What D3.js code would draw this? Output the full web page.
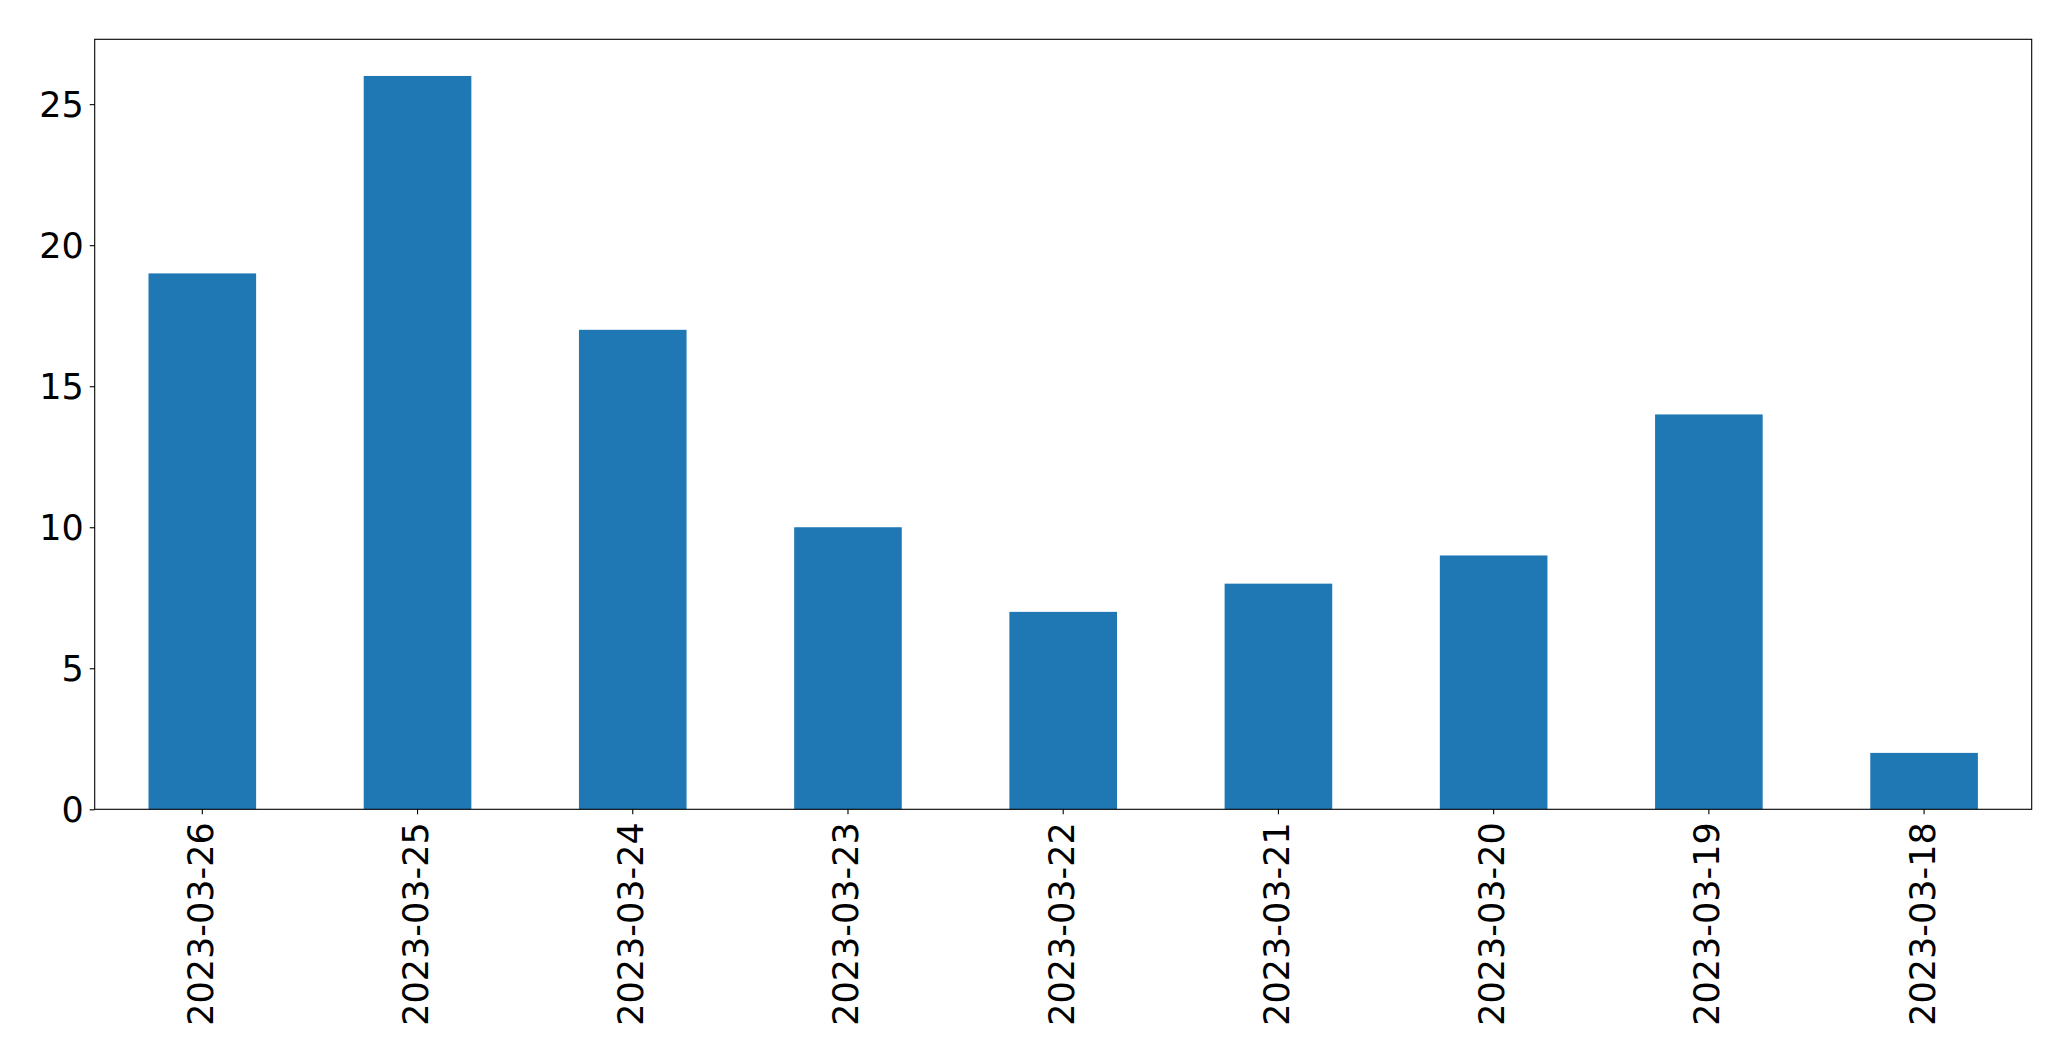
<!DOCTYPE html>
<html><head><meta charset="utf-8">
<script src="https://cdn.jsdelivr.net/npm/d3@7"></script>
<style>body{margin:0;background:#fff}svg{display:block}</style>
</head><body>
<script>
const categories = ["2023-03-26","2023-03-25","2023-03-24","2023-03-23","2023-03-22","2023-03-21","2023-03-20","2023-03-19","2023-03-18"];
const values = [19, 26, 17, 10, 7, 8, 9, 14, 2];
const yTicks = [0, 5, 10, 15, 20, 25];

const W = 2071, H = 1061;
const m = {left: 94.7, right: W - 2031.7, top: 39.3, bottom: H - 809.3};
const iw = W - m.left - m.right, ih = H - m.top - m.bottom;
const fs = 35;

const svg = d3.select("body").append("svg").attr("width", W).attr("height", H);
const g = svg.append("g").attr("transform", `translate(${m.left},${m.top})`);

const x = d3.scaleBand().domain(categories).range([0, iw]).paddingInner(0.5).paddingOuter(0.25);
const y = d3.scaleLinear().domain([0, d3.max(values) * 1.05]).range([ih, 0]);

g.selectAll("rect.bar").data(values).join("rect")
  .attr("class", "bar")
  .attr("x", (d, i) => x(categories[i]))
  .attr("width", x.bandwidth())
  .attr("y", d => y(d))
  .attr("height", d => ih - y(d))
  .attr("fill", "#1f77b4");

const yAxis = g.append("g").call(d3.axisLeft(y).tickValues(yTicks).tickSize(5).tickPadding(6).tickFormat(d3.format("d")));
const xAxis = g.append("g").attr("transform", `translate(0,${ih})`).call(d3.axisBottom(x).tickSize(5).tickPadding(0));
[yAxis, xAxis].forEach(a => {
  a.select(".domain").remove();
  a.selectAll(".tick line").attr("stroke", "#000").attr("stroke-width", 1.1);
  a.selectAll("text").attr("font-family", "DejaVu Sans").attr("font-size", fs).attr("fill", "#000");
});
yAxis.selectAll("text").attr("dy", "0.35em");
xAxis.selectAll(".tick text")
  .attr("transform", "rotate(-90)")
  .attr("text-anchor", "end")
  .attr("x", -13)
  .attr("y", 0)
  .attr("dy", "0.3em");

g.append("rect").attr("x", 0).attr("y", 0).attr("width", iw).attr("height", ih)
  .attr("fill", "none").attr("stroke", "#000").attr("stroke-width", 1.1);
</script>
</body></html>
